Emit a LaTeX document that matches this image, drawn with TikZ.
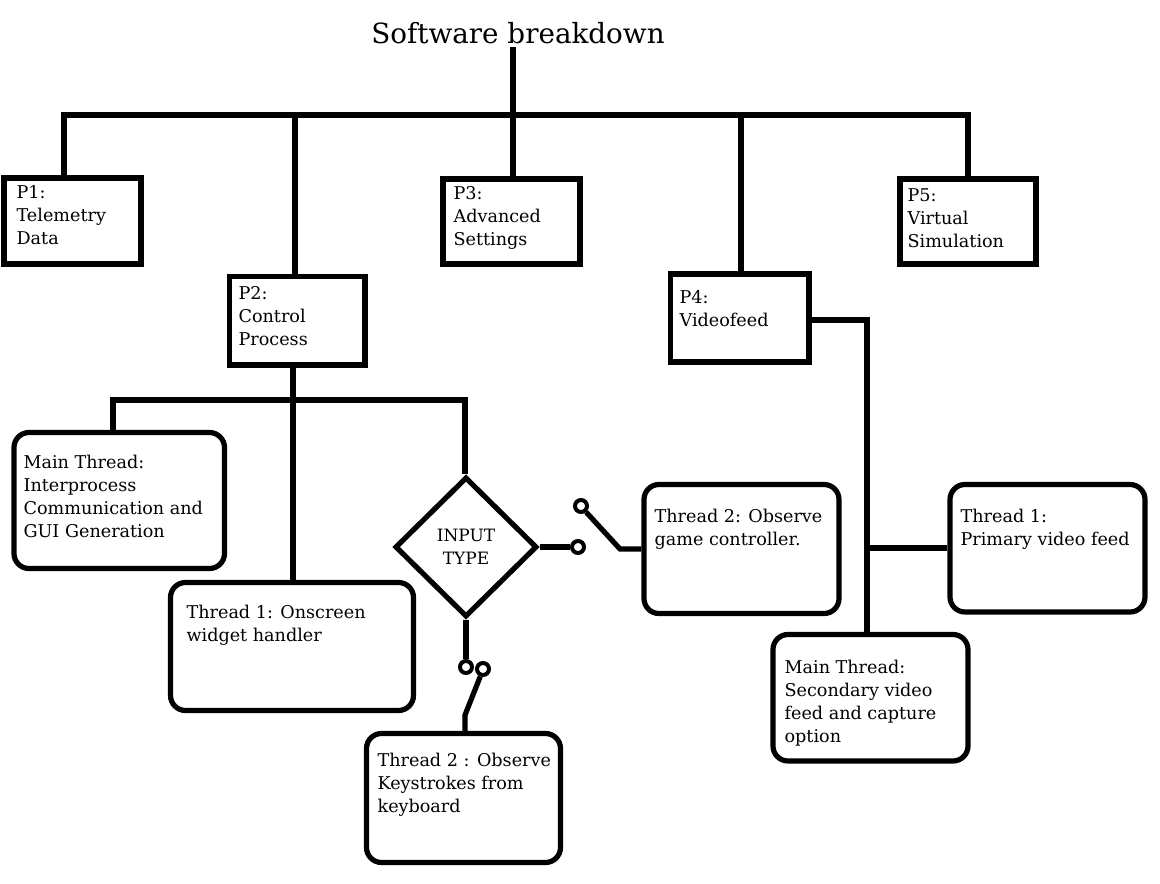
\documentclass[tikz,border=0pt]{standalone}
\usepackage{fontspec}
\setmainfont{DejaVu Serif}
\usetikzlibrary{shapes.geometric,fit}
\begin{document}
\begin{tikzpicture}[x=1pt,y=-1pt,
  line width=5.2pt,
  pbox/.style={draw, rectangle, inner sep=0pt, line width=5.2pt},
  tbox/.style={draw, rectangle, rounded corners=15pt, inner sep=0pt, line width=5.2pt},
  txt/.style={anchor=base west, inner sep=0pt, align=left, font=\fontsize{17.6}{23.3}\selectfont},
  sw/.style={draw, circle, inner sep=0pt, minimum size=12pt, line width=4pt, fill=white},
  dia/.style={draw, diamond, aspect=1, inner sep=0pt, minimum width=142pt, minimum height=140pt, line width=5.2pt, align=center, font=\fontsize{17}{23.3}\selectfont}
]
\useasboundingbox[fill=white] (0,0) rectangle (1160,884);

% title
\node[anchor=base, inner sep=0pt, font=\fontsize{27.8}{32}\selectfont] (title) at (518,43) {Software breakdown};

% process boxes
\node[pbox, fit={(4,178) (141,264)}] (p1) {};
\node[pbox, fit={(229.5,276.5) (365,365)}] (p2) {};
\node[pbox, fit={(443,179) (580,264)}] (p3) {};
\node[pbox, fit={(670.5,274) (809,362)}] (p4) {};
\node[pbox, fit={(900,179) (1036,264)}] (p5) {};

% thread boxes
\node[tbox, fit={(14,432.5) (224.5,568.5)}] (mt) {};
\node[tbox, fit={(170.5,582.5) (413.5,710.5)}] (t1) {};
\node[tbox, fit={(644,484.5) (839,613.5)}] (t2) {};
\node[tbox, fit={(366.5,733.5) (560.5,862.5)}] (kb) {};
\node[tbox, fit={(950,484.5) (1145,612)}] (v1) {};
\node[tbox, fit={(773,634.5) (968,761)}] (mv) {};

% texts (anchor = baseline of the last line)
\node[txt] (p1t) at (14,244.6) {P1:\\Telemetry\\Data};
\node[txt] (p2t) at (236,345.6) {P2:\\Control\\Process};
\node[txt] (p3t) at (451,245.6) {P3:\\Advanced\\Settings};
\node[txt] (p4t) at (677,326.3) {P4:\\Videofeed};
\node[txt] (p5t) at (905,247.6) {P5:\\Virtual\\Simulation};
\node[txt] (mtt) at (21,537.9) {Main Thread:\\Interprocess\\Communication and\\GUI Generation};
\node[txt] (t1t) at (184,641.3) {Thread 1: Onscreen\\widget handler};
\node[txt] (t2t) at (652,545.3) {Thread 2: Observe\\game controller.};
\node[txt] (kbt) at (375,812.6) {Thread 2 : Observe\\Keystrokes from\\keyboard};
\node[txt] (v1t) at (958,545.3) {Thread 1:\\Primary video feed};
\node[txt] (mvt) at (782,742.9) {Main Thread:\\Secondary video\\feed and capture\\option};

% diamond
\node[dia] (dia) at (466,547) {INPUT\\TYPE};

% switch contacts
\node[sw] (s1) at (578,547) {};
\node[sw] (s2) at (581,506) {};
\node[sw] (s3) at (466,667) {};
\node[sw] (s4) at (483,669) {};

% top tree
\coordinate (stem) at (513,47);
\coordinate (busL) at (64,115);
\coordinate (busM) at (513,115);
\coordinate (busR) at (968,115);
\coordinate (b2) at (295,115);
\coordinate (b4) at (741,115);
\draw (stem) -- (busM);
\draw (busL |- p1.north) -- (busL) -- (busR) -- (busR |- p5.north);
\draw (busM) -- (busM |- p3.north);
\draw (b2) -- (b2 |- p2.north);
\draw (b4) -- (b4 |- p4.north);

% P2 tree
\coordinate (c2) at (293,400);
\coordinate (c2L) at (113,400);
\coordinate (c2R) at (465,400);
\draw (c2 |- p2.south) -- (c2);
\draw (c2L |- mt.north) -- (c2L) -- (c2R) -- (c2R |- dia.north);
\draw (c2) -- (c2 |- t1.north);

% switches
\coordinate (k1) at (620,549);
\draw (dia.east) -- (s1.west);
\draw (s2.-50) -- (k1) -- (k1 -| t2.west);
\coordinate (k2) at (465,715);
\draw (dia.south) -- (s3.north);
\draw (s4.-110) -- (k2) -- (k2 |- kb.north);

% P4 tree
\coordinate (c4) at (867,320);
\coordinate (c4m) at (867,548);
\draw (p4.east |- c4) -- (c4) -- (c4 |- mv.north);
\draw (c4m) -- (c4m -| v1.west);
\end{tikzpicture}
\end{document}
